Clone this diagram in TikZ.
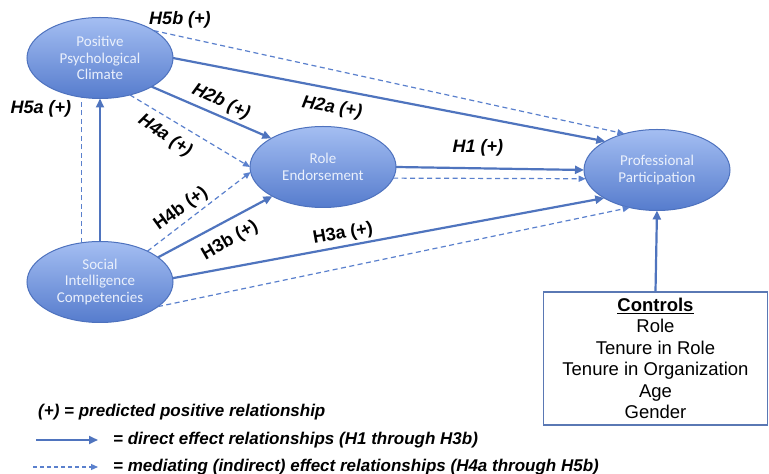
\documentclass[tikz,border=0pt]{standalone}
\usepackage{fontspec}
\setmainfont{Liberation Sans}
\newfontfamily\calib{Carlito}
\usetikzlibrary{shapes.geometric,arrows.meta}

\definecolor{lineblue}{RGB}{79,116,190}
\definecolor{dashblue}{RGB}{90,128,205}
\definecolor{elltop}{RGB}{164,190,242}
\definecolor{ellbot}{RGB}{86,124,205}
\definecolor{ellborder}{RGB}{78,114,190}
\definecolor{elltext}{RGB}{234,240,252}
\definecolor{boxblue}{RGB}{90,120,180}

\begin{document}
\begin{tikzpicture}[x=1pt,y=1pt,
 construct/.style={ellipse, draw=ellborder, line width=1pt, top color=elltop, bottom color=ellbot,
   minimum width=146pt, minimum height=81pt, inner sep=0pt, outer sep=0pt, align=center,
   text=elltext, font=\calib\fontsize{15}{16.5}\selectfont},
 direct/.style={draw=lineblue, line width=2.2pt, -{Triangle[length=9pt,width=8pt]}},
 mediating/.style={draw=dashblue, line width=1.2pt, dash pattern=on 5pt off 3.5pt, -{Triangle[length=7pt,width=6pt]}},
 mediatingplain/.style={draw=dashblue, line width=1.2pt, dash pattern=on 5pt off 3.5pt},
 hyp/.style={font=\fontsize{18}{20}\selectfont\bfseries\itshape, inner sep=0pt},
 hypup/.style={font=\fontsize{18}{20}\selectfont\bfseries, inner sep=0pt},
 legendtext/.style={font=\fontsize{17}{20}\selectfont\bfseries\itshape, anchor=west, inner sep=0pt},
]
\fill[white] (0,0) rectangle (769,474);
\useasboundingbox (0,0) rectangle (769,474);

% constructs
\node[construct] (ppc) at (100,416) {Positive\\Psychological\\Climate};
\node[construct] (re)  at (323,307) {Role\\Endorsement};
\node[construct] (pp)  at (657,304) {Professional\\Participation};
\node[construct] (sic) at (100,192) {Social\\Intelligence\\Competencies};

% controls box
\node[draw=boxblue, line width=1.2pt, minimum width=224pt, minimum height=133pt, align=center,
  inner sep=0pt, font=\fontsize{18.5}{21.5}\selectfont] (ctrl) at (655.5,115.5)
  {\underline{\textbf{Controls}}\\Role\\Tenure in Role\\Tenure in Organization\\Age\\Gender};

% direct effects
\draw[direct] (sic.north) -- (ppc.south);
\draw[direct] (ppc.-29) -- (re.151);
\draw[direct] (ppc.0) -- (pp.151);
\draw[direct] (re.0) -- (pp.180);
\draw[direct] (sic.23) -- (re.210);
\draw[direct] (sic.3) -- (pp.208);
\draw[direct] (ctrl.north) -- (pp.south);

% mediating effects
\draw[mediatingplain] (sic.115) -- (ppc.245);
\draw[mediating] (ppc.-51) -- (re.180);
\draw[mediating] (ppc.27) -- (pp.132);
\draw[mediating] (re.-9) -- (pp.187);
\draw[mediating] (sic.33) -- (re.184);
\draw[mediating] (sic.-23) -- (pp.234);

% hypothesis labels
\node[hyp] (h5b) at (180,454) {H5b (+)};
\node[hyp] (h5a) at (41,365) {H5a (+)};
\node[hyp, rotate=-25] (h2b) at (221,372) {H2b (+)};
\node[hyp, rotate=-34] (h4a) at (165,338) {H4a (+)};
\node[hyp, rotate=-10] (h2a) at (332,366) {H2a (+)};
\node[hyp] (h1) at (478,326) {H1 (+)};
\node[hypup, rotate=36] (h4b) at (181,265) {H4b (+)};
\node[hypup, rotate=30] (h3b) at (230,233) {H3b (+)};
\node[hypup, rotate=10] (h3a) at (343,240) {H3a (+)};

% legend
\node[legendtext] (leg1) at (38,62) {(+) = predicted positive relationship};
\coordinate (la1) at (36,34);
\coordinate (lb1) at (98,34);
\draw[direct] (la1) -- (lb1);
\node[legendtext] (leg2) at (113,34) {= direct effect relationships (H1 through H3b)};
\coordinate (la2) at (33,7);
\coordinate (lb2) at (98,7);
\draw[mediating, dash pattern=on 4pt off 3pt] (la2) -- (lb2);
\node[legendtext] (leg3) at (113,7) {= mediating (indirect) effect relationships (H4a through H5b)};
\end{tikzpicture}
\end{document}
